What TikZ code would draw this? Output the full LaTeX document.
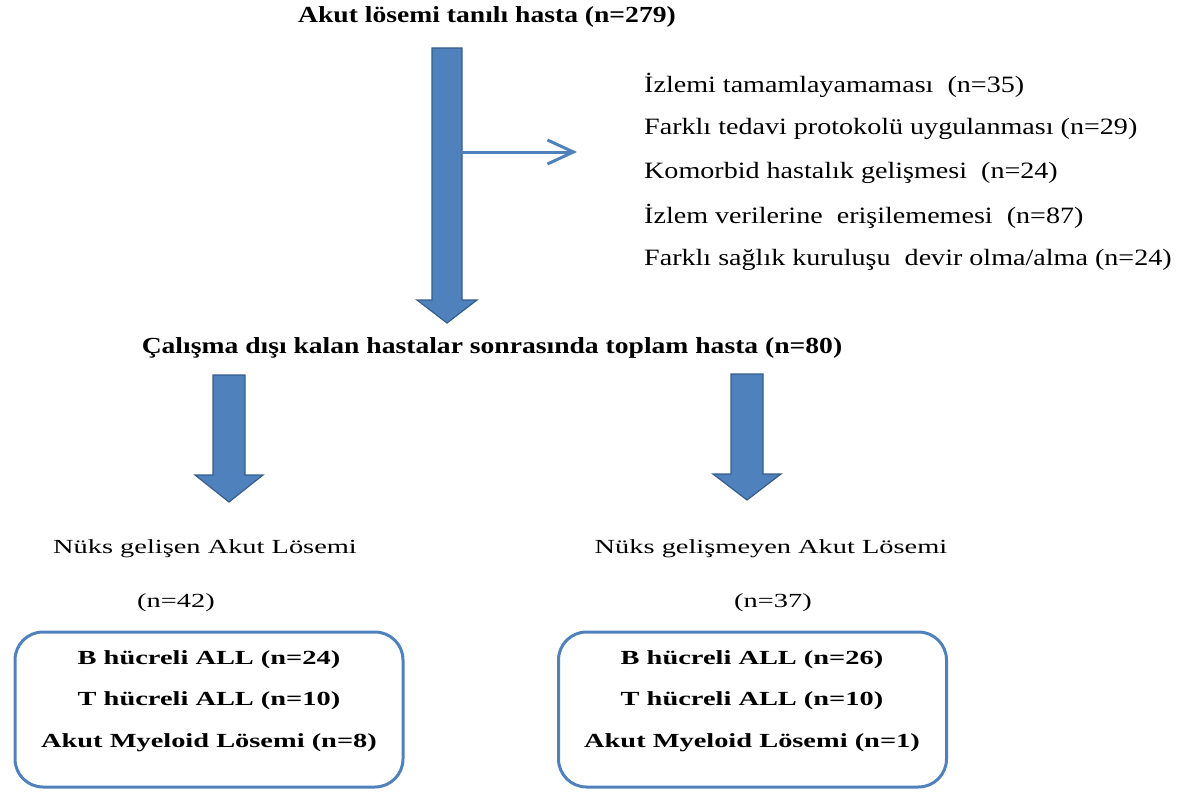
\documentclass[tikz,border=0pt]{standalone}
\usepackage{fontspec}
\setmainfont[FakeStretch=1.2]{Liberation Serif}
\newfontfamily\widefont[FakeStretch=1.42]{Liberation Serif}
\usetikzlibrary{arrows.meta,calc}
\definecolor{arrblue}{HTML}{4F81BD}
\definecolor{arrdark}{HTML}{385D8A}

\begin{document}
\begin{tikzpicture}[
  x=1pt, y=-1pt,
  head/.style={font=\fontsize{23}{27}\selectfont\bfseries, inner sep=0pt},
  item/.style={anchor=west, font=\fontsize{23.4}{27}\selectfont, inner sep=0pt},
  group/.style={font=\widefont\fontsize{20}{24}\selectfont, inner sep=0pt},
  sub/.style={align=center, inner sep=0pt,
              font=\widefont\fontsize{20}{41.5}\selectfont\bfseries},
  panel/.style={draw=arrblue, line width=3pt, rounded corners=28pt,
                minimum width=388pt, minimum height=155pt},
  blockarr/.style={fill=arrblue, draw=arrdark, line width=1.2pt},
  thinarr/.style={draw=arrblue, line width=3pt,
                  -{Straight Barb[length=26pt,width=24pt,line width=3pt]}}
]
\useasboundingbox (0,0) rectangle (1184,792);

\node[head] (title) at (487,17) {Akut lösemi tanılı hasta (n=279)};
\foreach \t [count=\i] in {İzlemi tamamlayamaması \ (n=35),
    Farklı tedavi protokolü uygulanması (n=29),
    Komorbid hastalık gelişmesi \ (n=24),
    İzlem verilerine \ erişilememesi \ (n=87),
    Farklı sağlık kuruluşu \ devir olma/alma (n=24)}
  \node[item] (ex\i) at (644,{41.5+43.7*\i}) {\t};
\node[head] (total) at (492,348) {Çalışma dışı kalan hastalar sonrasında toplam hasta (n=80)};

\node[group] (relapse) at (205,549) {Nüks gelişen Akut Lösemi};
\node[group] (n42) at (176,603) {(n=42)};
\node[group] (norelapse) at (771,549) {Nüks gelişmeyen Akut Lösemi};
\node[group] (n37) at (773,603) {(n=37)};

\node[panel] (boxL) at (209,709.5) {};
\node[panel] (boxR) at (752.5,709.5) {};
\node[sub] (subL) at (209,701) {B hücreli ALL (n=24)\\T hücreli ALL (n=10)\\Akut Myeloid Lösemi (n=8)};
\node[sub] (subR) at (752,701) {B hücreli ALL (n=26)\\T hücreli ALL (n=10)\\Akut Myeloid Lösemi (n=1)};

% block arrows
\coordinate (t1) at (447,48);  \coordinate (t2) at (447,323);
\coordinate (l1) at (229,375); \coordinate (l2) at (229,502);
\coordinate (r1) at (747,374); \coordinate (r2) at (747,500);
\foreach \a/\b/\s/\h/\l in {t1/t2/15/30/23, l1/l2/16/34/27, r1/r2/16/34/26}
  \draw[blockarr] let \p1=(\a), \p2=(\b) in
    (\x1-\s pt,\y1) -- (\x1+\s pt,\y1) -- (\x1+\s pt,\y2+\l pt) -- (\x1+\h pt,\y2+\l pt)
    -- (\x2,\y2) -- (\x1-\h pt,\y2+\l pt) -- (\x1-\s pt,\y2+\l pt) -- cycle;

\coordinate (br) at (461,152); \coordinate (brend) at (577,152);
\draw[thinarr] (br) -- (brend);
\end{tikzpicture}
\end{document}
